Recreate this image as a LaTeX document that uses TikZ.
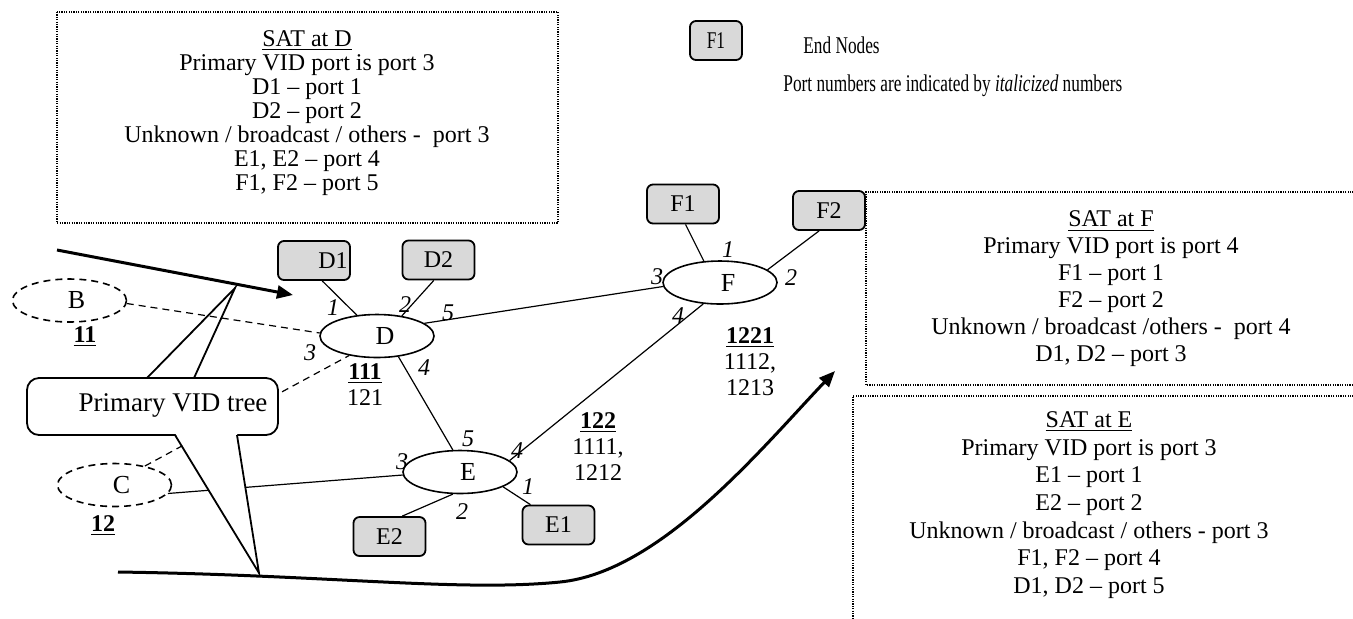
\documentclass[tikz,border=0pt]{standalone}
\usepackage{fontspec}
\usepackage{graphicx}
\setmainfont{Liberation Serif}
\usetikzlibrary{shapes.geometric,arrows.meta}
\definecolor{boxgray}{RGB}{217,217,217}
\begin{document}
\begin{tikzpicture}[x=0.5pt,y=-0.5pt,
  every node/.style={font=\fontsize{12}{14}\selectfont},
  endnode/.style={draw,line width=0.9pt,rounded corners=3pt,fill=boxgray,minimum width=36pt,minimum height=19.5pt,inner sep=0pt},
  bridge/.style={draw,ellipse,line width=0.8pt,minimum width=57pt,minimum height=21.5pt,inner sep=0pt,font=\fontsize{13}{14}\selectfont},
  virt/.style={bridge,dash pattern=on 3.5pt off 2.5pt},
  link/.style={line width=0.6pt},
  vlink/.style={link,dash pattern=on 3.5pt off 2.5pt},
  port/.style={font=\fontsize{12}{12}\selectfont\itshape,inner sep=0pt},
  lbl/.style={align=center,inner sep=0pt,font=\fontsize{12}{13}\selectfont},
  sat/.style={dash pattern=on 0.6pt off 0.6pt,line width=0.7pt},
  sattext/.style={align=center,inner sep=0pt},
  big/.style={line width=1.5pt,-{Triangle[length=8pt,width=6.5pt]}},
  callout/.style={line width=0.9pt}
]
\useasboundingbox (0,0) rectangle (1353,618);

% SAT boxes
\draw[sat] (57,12) rectangle (558,223);
\draw[sat] (1356,192) -- (866,192) -- (866,385) -- (1356,385);
\draw[sat] (1356,396) -- (853,396) -- (853,621);

\node[sattext,font=\fontsize{12}{12}\selectfont] (satD) at (307,113) {\underline{SAT at D}\\Primary VID port is port 3\\D1 – port 1\\D2 – port 2\\Unknown / broadcast / others -\ \ port 3\\E1, E2 – port 4\\F1, F2 – port 5};
\node[sattext,font=\fontsize{12}{13.5}\selectfont] (satF) at (1111,289) {\underline{SAT at F}\\Primary VID port is port 4\\F1 – port 1\\F2 – port 2\\Unknown / broadcast /others -\ \ port 4\\D1, D2 – port 3};
\node[sattext,font=\fontsize{12}{13.8}\selectfont] (satE) at (1089,505) {\underline{SAT at E}\\Primary VID port is port 3\\E1 – port 1\\E2 – port 2\\Unknown / broadcast / others - port 3\\F1, F2 – port 4\\D1, D2 – port 5};

% legend
\node[endnode,minimum width=26pt] (lgF1) at (716,40.5) {\scalebox{0.72}[1]{F1}};
\node[anchor=west,inner sep=0pt] (lgEnd) at (803,45) {\scalebox{0.72}[1]{End Nodes}};
\node[anchor=west,inner sep=0pt] (lgPort) at (783,86) {\scalebox{0.72}[1]{Port numbers are indicated by \textit{italicized} numbers}};

% nodes
\node[endnode] (D1) at (314,260.5) {\hspace*{19pt}D1};
\node[endnode] (D2) at (438.5,260) {D2};
\node[endnode] (F1) at (683,204) {F1};
\node[endnode] (F2) at (829,210.5) {F2};
\node[endnode] (E1) at (558.5,525) {E1};
\node[endnode] (E2) at (389.5,536.5) {E2};
\node[bridge] (D) at (377,336) {\hspace*{8pt}D};
\node[bridge] (E) at (460,472) {\hspace*{8pt}E};
\node[bridge] (F) at (720,282.5) {\hspace*{8pt}F};
\node[virt] (B) at (69.5,300.5) {\hspace*{7pt}B};
\node[virt] (C) at (114.5,485) {\hspace*{7pt}C};

% links
\draw[link] (D1.-68) -- (D.134);
\draw[link] (D2.-103) -- (D.39);
\draw[link] (D.15) -- (F.184);
\draw[link] (D.-44) -- (E.108);
\draw[link] (F.232) -- (E.13);
\draw[link] (F1.-83) -- (F.127);
\draw[link] (F2.244) -- (F.15);
\draw[link] (E.-19) -- (E1.144);
\draw[link] (E.-108) -- (E2.58);
\draw[link] (C.-9) -- (E.183);
\draw[vlink] (B.-3.5) -- (D.177);
\draw[vlink] (C.32) -- (D.215);

% port numbers
\node[port] (pD1) at (333,308) {1};
\node[port] (pD2) at (405,305) {2};
\node[port] (pD5) at (448,313) {5};
\node[port] (pD3) at (310,353) {3};
\node[port] (pD4) at (424,368) {4};
\node[port] (pF3) at (657,277) {3};
\node[port] (pF1) at (728,250) {1};
\node[port] (pF2) at (791,278) {2};
\node[port] (pF4) at (678,316) {4};
\node[port] (pE5) at (468,439) {5};
\node[port] (pE3) at (402,462) {3};
\node[port] (pE4) at (517,451) {4};
\node[port] (pE1) at (528,487) {1};
\node[port] (pE2) at (462,512) {2};

% addresses
\node[lbl] (l11) at (85,337) {\underline{\textbf{11}}};
\node[lbl] (l12) at (103,526) {\underline{\textbf{12}}};
\node[lbl] (lD) at (365,385) {\underline{\textbf{111}}\\121};
\node[lbl] (lE) at (598,447) {\underline{\textbf{122}}\\1111,\\1212};
\node[lbl] (lF) at (750,362) {\underline{\textbf{1221}}\\1112,\\1213};

% callout
\filldraw[callout,fill=white,rounded corners=6pt] (27,378) rectangle (278,435);
\fill[white] (175,433) -- (259,573) -- (237,433) -- cycle;
\draw[callout] (175,435) -- (259,573) -- (237,435);
\draw[callout] (147,378) -- (235,288) -- (194,378);
\node[font=\fontsize{13.5}{15}\selectfont] (pvt) at (173,405) {Primary VID tree};

% thick arrows
\coordinate (a1s) at (57,250);
\coordinate (a1e) at (293,295);
\draw[big] (a1s) -- (a1e);
\coordinate (a2s) at (118,572);
\coordinate (a2e) at (835,371);
\draw[big] (a2s) .. controls (330,575) and (460,592) .. (560,582) .. controls (660,572) and (760,450) .. (a2e);
\end{tikzpicture}
\end{document}
